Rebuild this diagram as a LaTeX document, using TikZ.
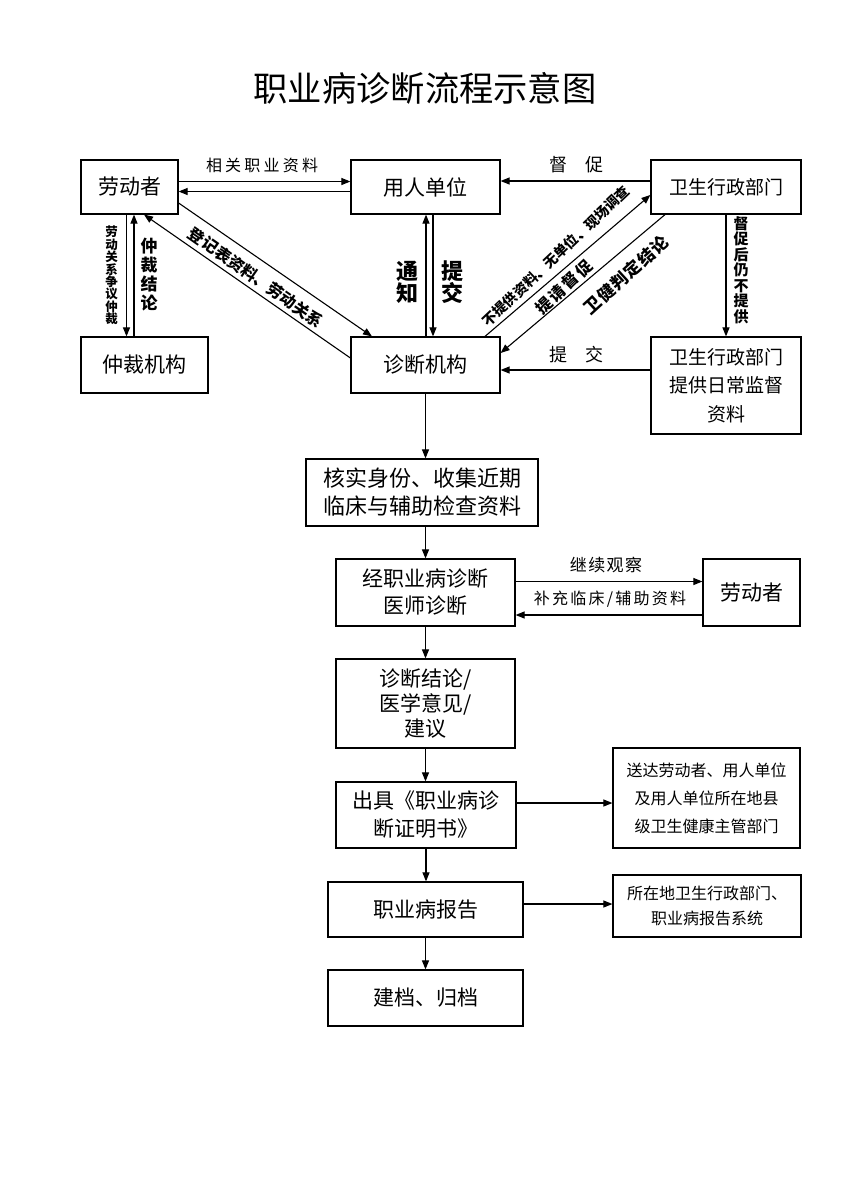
\documentclass[tikz,border=0pt]{standalone}
\usepackage{fontspec}
\setmainfont{Noto Sans CJK SC}[AutoFakeSlant=0.25]
\usetikzlibrary{arrows.meta,calc}
\newcommand\fsz[2]{\fontsize{#1pt}{#2pt}\selectfont}
\begin{document}
\begin{tikzpicture}[x=1pt,y=-1pt,
  box/.style={draw, line width=1.2pt, inner sep=0pt, align=center},
  arr/.style={line width=1.1pt, -{Triangle[length=9pt,width=7pt]}},
  lbl/.style={inner sep=0pt, align=center}]
\useasboundingbox (0,0) rectangle (849,1200);

% title
\node[lbl, font=\fsz{34.3}{37}] (title) at (425,88) {职业病诊断流程示意图};

% top boxes
\node[box, minimum width=97pt, minimum height=54pt, font=\fsz{21}{25}] (lw) at (129.5,187) {劳动者};
\node[box, minimum width=149pt, minimum height=54pt, font=\fsz{21}{25}] (yr) at (425.5,187) {用人单位};
\node[box, minimum width=150pt, minimum height=54pt, font=\fsz{19}{23}] (ws) at (726,187) {卫生行政部门};
\node[box, minimum width=127pt, minimum height=56pt, font=\fsz{21}{25}] (zc) at (144.5,365) {仲裁机构};
\node[box, minimum width=149pt, minimum height=56pt, font=\fsz{21}{25}] (zd) at (425.5,365) {诊断机构};
\node[box, minimum width=150pt, minimum height=97pt, font=\fsz{19}{28.5}] (wsg) at (726,385.5) {卫生行政部门\\提供日常监督\\资料};

% flow boxes
\node[box, minimum width=232pt, minimum height=67pt, font=\fsz{22}{28}] (hs) at (422,492.5) {核实身份、收集近期\\临床与辅助检查资料};
\node[box, minimum width=179pt, minimum height=67pt, font=\fsz{21}{27}] (jz) at (425.5,592.5) {经职业病诊断\\医师诊断};
\node[box, minimum width=97pt, minimum height=67pt, font=\fsz{21}{25}] (lw2) at (751.5,592.5) {劳动者};
\node[box, minimum width=179pt, minimum height=89pt, font=\fsz{21}{25}] (jl) at (425.5,703.5) {诊断结论/\\医学意见/\\建议};
\node[box, minimum width=180pt, minimum height=66pt, font=\fsz{21}{28}] (cj) at (426,815) {出具《职业病诊\\断证明书》};
\node[box, minimum width=187pt, minimum height=100pt, font=\fsz{16}{28}] (sd) at (706.5,798) {送达劳动者、用人单位\\及用人单位所在地县\\级卫生健康主管部门};
\node[box, minimum width=195pt, minimum height=55pt, font=\fsz{21}{25}] (bg) at (425.5,909.5) {职业病报告};
\node[box, minimum width=188pt, minimum height=62pt, font=\fsz{16}{25}] (sz) at (707,906) {所在地卫生行政部门、\\职业病报告系统};
\node[box, minimum width=195pt, minimum height=56pt, font=\fsz{21}{25}] (jd) at (425.5,998) {建档、归档};

% top connectors
\draw[arr] ([yshift=5.5pt]lw.east) -- ([yshift=5.5pt]lw.east -| yr.west);
\draw[arr] ([yshift=-4.5pt]yr.west) -- ([yshift=-4.5pt]yr.west -| lw.east);
\node[lbl, font=\fsz{16}{18}\addfontfeature{LetterSpace=20}] (l1) at (262,165) {相关职业资料};
\draw[arr] ([yshift=6pt]ws.west) -- ([yshift=6pt]ws.west -| yr.east);
\node[lbl, font=\fsz{18}{20}] (l2) at (576,165) {督\hspace{18pt}促};

\draw[arr] ([xshift=-3pt]lw.south) -- ([xshift=-3pt]lw.south |- zc.north);
\draw[arr] ([xshift=4.5pt]lw.south |- zc.north) -- ([xshift=4.5pt]lw.south);
\node[lbl, font=\bfseries\fsz{12.5}{12.4}] (l3) at (111.5,275.5) {劳\\动\\关\\系\\争\\议\\仲\\裁};
\node[lbl, font=\bfseries\fsz{17}{19.2}] (l4) at (149,274.5) {仲\\裁\\结\\论};

\draw[arr] ([yshift=-16pt]lw.east) -- ([xshift=-53.5pt]zd.north);
\draw[arr] ([yshift=7pt]zd.west) -- ([xshift=14.5pt]lw.south);
\node[lbl, rotate=-35, font=\bfseries\itshape\fsz{16}{18}] (l5) at (256,277.5) {登记表资料、劳动关系};

\draw[arr] ([xshift=0.5pt]zd.north) -- ([xshift=0.5pt]zd.north |- yr.south);
\draw[arr] ([xshift=7.5pt]yr.south) -- ([xshift=7.5pt]yr.south |- zd.north);
\node[lbl, font=\bfseries\fsz{22}{22}] (l6) at (407,282) {通\\知};
\node[lbl, font=\bfseries\fsz{22}{22}] (l7) at (452,282) {提\\交};

\draw[arr] ([xshift=59.5pt]zd.north) -- ([yshift=-8pt]ws.west);
\draw[arr] ([xshift=-61pt]ws.south) -- ([yshift=12pt]zd.east);
\node[lbl, rotate=43.5, font=\bfseries\itshape\fsz{14}{16}] (l8) at (556,256) {不提供资料、无单位、现场调查};
\node[lbl, rotate=43.5, font=\bfseries\itshape\fsz{16}{18}\addfontfeature{LetterSpace=14}] (l9) at (564,287) {提请督促};
\node[lbl, rotate=42.5, font=\bfseries\itshape\fsz{17}{19}\addfontfeature{LetterSpace=6}] (l10) at (626,275) {卫健判定结论};

\draw[arr] (ws.south) -- (wsg.north);
\node[lbl, font=\bfseries\fsz{15}{15.5}] (l11) at (741,270) {督\\促\\后\\仍\\不\\提\\供};

\draw[arr] ([yshift=15.5pt]wsg.west) -- ([yshift=15.5pt]wsg.west -| zd.east);
\node[lbl, font=\fsz{18}{20}] (l12) at (576,355) {提\hspace{18pt}交};

% main flow
\draw[arr] (zd.south) -- (zd.south |- hs.north);
\draw[arr] (jz.north |- hs.south) -- (jz.north);
\draw[arr] ([yshift=11pt]jz.east) -- ([yshift=11pt]jz.east -| lw2.west);
\draw[arr] ([yshift=-22.5pt]lw2.west) -- ([yshift=-22.5pt]lw2.west -| jz.east);
\node[lbl, font=\fsz{17}{19}\addfontfeature{LetterSpace=8}] (l13) at (606,565) {继续观察};
\node[lbl, font=\fsz{16}{18}\addfontfeature{LetterSpace=14}] (l14) at (610,599) {补充临床/辅助资料};
\draw[arr] (jz.south) -- (jl.north);
\draw[arr] (jl.south) -- (jl.south |- cj.north);
\draw[arr] ([yshift=12pt]cj.east) -- ([yshift=12pt]cj.east -| sd.west);
\draw[arr] (cj.south) -- (cj.south |- bg.north);
\draw[arr] ([yshift=5.5pt]bg.east) -- ([yshift=5.5pt]bg.east -| sz.west);
\draw[arr] (bg.south) -- (jd.north);
\end{tikzpicture}
\end{document}
